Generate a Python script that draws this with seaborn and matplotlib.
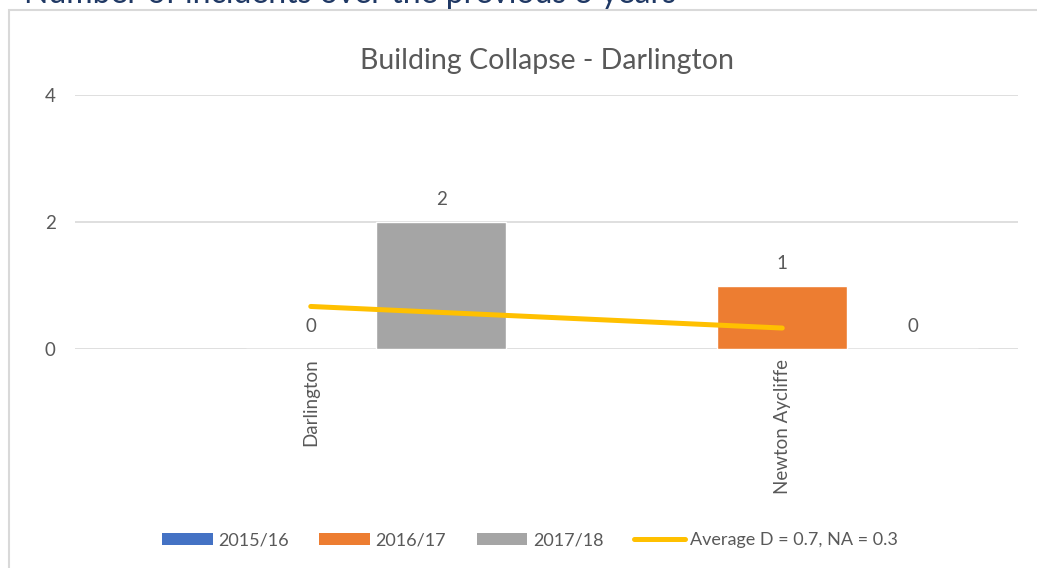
import numpy as np
import pandas as pd
import matplotlib
matplotlib.use("Agg")
import matplotlib.pyplot as plt
from matplotlib.patches import Patch, Rectangle
from matplotlib.lines import Line2D
import seaborn as sns

# ---- data ----
stations = ["Darlington", "Newton Aycliffe"]
years = ["2015/16", "2016/17", "2017/18"]
counts_2015 = [np.nan, np.nan]
counts_2016 = [0, 1]
counts_2017 = [2, 0]
average_values = [0.67, 0.33]
average_label = "Average D = 0.7, NA = 0.3"
title = "Building Collapse - Darlington"
header = "Number of incidents over the previous 3 years"
y_ticks = [0, 2, 4]

colors = {"2015/16": "#4472C4", "2016/17": "#ED7D31", "2017/18": "#A5A5A5"}
avg_color = "#FFC000"
text_grey = "#595959"

rows = []
for yr, vals in zip(years, [counts_2015, counts_2016, counts_2017]):
    for st, v in zip(stations, vals):
        rows.append({"station": st, "year": yr, "count": v})
df = pd.DataFrame(rows)
avg_df = pd.DataFrame({"station": stations, "avg": average_values})

sns.set_theme(style="white")
plt.rcParams["font.family"] = ["Lato", "DejaVu Sans"]

fig = plt.figure(figsize=(10.37, 5.68), dpi=100)
W, H = 1037, 568
ax = fig.add_axes([75 / W, 1 - 349 / H, (1018 - 75) / W, (349 - 95) / H])

sns.barplot(data=df, x="station", y="count", hue="year", hue_order=years,
            order=stations, palette=colors, width=0.83, errorbar=None,
            ax=ax, legend=False, saturation=1)
sns.lineplot(data=avg_df, x="station", y="avg", color=avg_color, lw=3.6,
             ax=ax, legend=False, solid_capstyle="round")

ax.set_xlim(-0.5, 1.5)
ax.set_ylim(0, 4)
ax.set_yticks(y_ticks)
ax.yaxis.grid(True, color="#D9D9D9", lw=1.2)
ax.set_axisbelow(True)
for s in ax.spines.values():
    s.set_visible(False)
ax.set_xlabel("")
ax.set_ylabel("")
ax.tick_params(axis="y", length=0, pad=14, labelsize=13.5, labelcolor=text_grey)
ax.tick_params(axis="x", length=0, pad=7, labelsize=13.5, labelcolor=text_grey)
for lbl in ax.get_xticklabels():
    lbl.set_rotation(90)
    lbl.set_va("top")

# value labels
n = len(years)
bw = 0.83 / n
for i, yr in enumerate(years):
    sub = df[df["year"] == yr]
    for j, st in enumerate(stations):
        v = sub[sub["station"] == st]["count"].values[0]
        if np.isnan(v):
            continue
        x = j + (i - (n - 1) / 2) * bw
        ax.annotate(f"{int(v)}", (x, v), xytext=(0, 16), textcoords="offset points",
                    ha="center", va="center", fontsize=13.5, color=text_grey)

ax.set_title(title, fontsize=20.5, color=text_grey, pad=19)

# legend
handles = [Patch(facecolor=colors[y], edgecolor="none", label=y) for y in years]
handles.append(Line2D([0], [0], color=avg_color, lw=3.6, label=average_label))
fig.legend(handles=handles, loc="center", bbox_to_anchor=(530 / W, 1 - 540 / H),
           ncol=4, frameon=False, fontsize=13, handlelength=2.8, handleheight=0.65,
           handletextpad=0.3, columnspacing=1.7, labelcolor=text_grey)

# chart border
fig.patches.append(Rectangle((9 / W, -0.05), 1.2, 1 - 10 / H + 0.05,
                             transform=fig.transFigure, fill=False,
                             edgecolor="#D9D9D9", lw=1.5))

# header (cut off at top, as in the reference)
fig.text(24 / W, 1 - 3 / H, header, fontsize=23, color="#1F3864",
         ha="left", va="baseline")

fig.savefig("out.png", dpi=100)
